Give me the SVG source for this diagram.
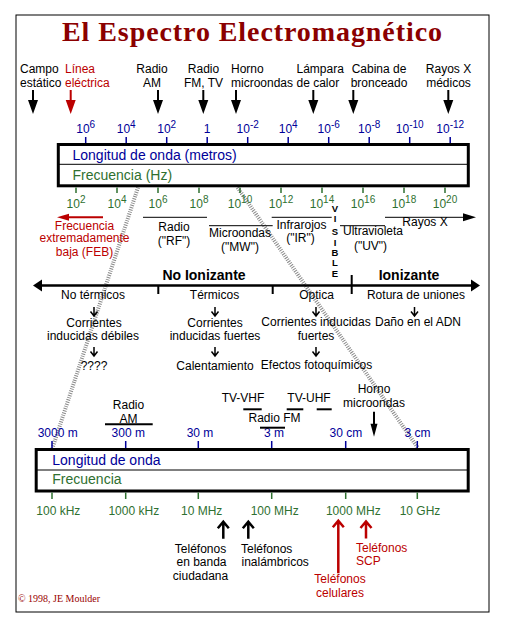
<svg xmlns="http://www.w3.org/2000/svg" width="507" height="630" viewBox="0 0 507 630">
<style>
text{font-family:"Liberation Sans",Arial,sans-serif;font-size:12px;fill:#000}
.m{text-anchor:middle}
.r{fill:#bb0000}
.b{fill:#000099}
.g{fill:#2f7030}
.bx{font-size:14px}
.sup{font-size:10px}
.hd{font-weight:bold;font-size:14px;text-anchor:middle}
.vis{font-weight:bold;font-size:9.5px;text-anchor:middle}
.title{font-family:"Liberation Serif","Times New Roman",serif;font-weight:bold;font-size:28px;fill:#8b0000;text-anchor:middle}
.copy{font-family:"Liberation Serif","Times New Roman",serif;font-size:10px;fill:#990000}
.ln{stroke:#000;stroke-width:1;fill:none}
.ul{stroke:#000;stroke-width:2;fill:none}
.tkb{stroke:#000099;stroke-width:1.5}
.tkg{stroke:#2f7030;stroke-width:1.5}
.box{fill:#fff;stroke:#000;stroke-width:3}
.mid{stroke:#000;stroke-width:1}
.band{stroke:#8a8a8a;stroke-width:4;stroke-dasharray:1 1.3;fill:none}
.sa{stroke:#000;stroke-width:1.5;fill:none}
.ua{stroke-width:2.5;fill:none}
</style>
<defs>
<path id="da" d="M-1,0 H1 V10 H5 L0,24 L-5,10 H-1 Z"/>
<path id="sa" d="M0,0 V9 M-3.5,4.5 L0,9 L3.5,4.5"/>
<path id="ua" d="M0,0 V17 M-5.5,6.5 L0,0 L5.5,6.5"/>
</defs>
<rect x="16" y="15" width="473" height="597" fill="#fff" stroke="#000" stroke-width="1"/>
<g id="title"><text class="title" x="252" y="40.5" textLength="380" lengthAdjust="spacing">El Espectro Electromagnético</text></g>

<g id="bands">
<line class="band" x1="138" y1="187.5" x2="52.5" y2="448"/>
<line class="band" x1="237.5" y1="187.5" x2="418" y2="448"/>
</g>

<g id="top-labels">
<g id="campo"><text x="20" y="73">Campo</text><text x="20" y="87">estático</text></g>
<g id="linea"><text class="r" x="65" y="73">Línea</text><text class="r" x="65" y="87">eléctrica</text></g>
<g id="radioam"><text class="m" x="152" y="73">Radio</text><text class="m" x="152" y="87">AM</text></g>
<g id="radiofm"><text class="m" x="203.5" y="73">Radio</text><text class="m" x="203.5" y="87">FM, TV</text></g>
<g id="horno"><text x="231" y="73">Horno</text><text x="231" y="87">microondas</text></g>
<g id="lampara"><text x="296.5" y="73">Lámpara</text><text x="296.5" y="87">de calor</text></g>
<g id="cabina"><text class="m" x="379" y="73">Cabina de</text><text class="m" x="379" y="87">bronceado</text></g>
<g id="rayosxmed"><text class="m" x="448.5" y="73">Rayos X</text><text class="m" x="448.5" y="87">médicos</text></g>
</g>

<g id="top-scale">
<text class="m b" x="85.7" y="133.3">10<tspan class="sup" dy="-5">6</tspan></text>
<text class="m b" x="126.2" y="133.3">10<tspan class="sup" dy="-5">4</tspan></text>
<text class="m b" x="166.7" y="133.3">10<tspan class="sup" dy="-5">2</tspan></text>
<text class="m b" x="207.2" y="133.3">1</text>
<text class="m b" x="247.7" y="133.3">10<tspan class="sup" dy="-5">-2</tspan></text>
<text class="m b" x="288.2" y="133.3">10<tspan class="sup" dy="-5">4</tspan></text>
<text class="m b" x="328.7" y="133.3">10<tspan class="sup" dy="-5">-6</tspan></text>
<text class="m b" x="369.2" y="133.3">10<tspan class="sup" dy="-5">-8</tspan></text>
<text class="m b" x="409.7" y="133.3">10<tspan class="sup" dy="-5">-10</tspan></text>
<text class="m b" x="450.2" y="133.3">10<tspan class="sup" dy="-5">-12</tspan></text>
<path class="tkb" d="M85.7,137V143.5M126.2,137V143.5M166.7,137V143.5M207.2,137V143.5M247.7,137V143.5M288.2,137V143.5M328.7,137V143.5M369.2,137V143.5M409.7,137V143.5M450.2,137V143.5"/>
</g>

<g id="top-box">
<rect class="box" x="58.3" y="144.5" width="410" height="41.3"/>
<line class="mid" x1="58.3" y1="164.3" x2="468.3" y2="164.3"/>
<text class="b bx" x="72.5" y="160">Longitud de onda (metros)</text>
<text class="g bx" x="72.5" y="179.5">Frecuencia (Hz)</text>
</g>

<g id="freq-scale">
<path class="tkg" d="M76,187.5V193M117,187.5V193M158,187.5V193M199,187.5V193M240,187.5V193M281,187.5V193M322,187.5V193M363,187.5V193M404,187.5V193M445,187.5V193"/>
<text class="m g" x="76" y="207.7">10<tspan class="sup" dy="-4.5">2</tspan></text>
<text class="m g" x="117" y="207.7">10<tspan class="sup" dy="-4.5">4</tspan></text>
<text class="m g" x="158" y="207.7">10<tspan class="sup" dy="-4.5">6</tspan></text>
<text class="m g" x="199" y="207.7">10<tspan class="sup" dy="-4.5">8</tspan></text>
<text class="m g" x="240" y="207.7">10<tspan class="sup" dy="-4.5">10</tspan></text>
<text class="m g" x="281" y="207.7">10<tspan class="sup" dy="-4.5">12</tspan></text>
<text class="m g" x="322" y="207.7">10<tspan class="sup" dy="-4.5">14</tspan></text>
<text class="m g" x="363" y="207.7">10<tspan class="sup" dy="-4.5">16</tspan></text>
<text class="m g" x="404" y="207.7">10<tspan class="sup" dy="-4.5">18</tspan></text>
<text class="m g" x="445" y="207.7">10<tspan class="sup" dy="-4.5">20</tspan></text>
</g>

<g id="band-labels">
<g id="feb"><text class="m r" x="84.5" y="229.5">Frecuencia</text><text class="m r" x="84.5" y="242">extremadamente</text><text class="m r" x="84.5" y="256">baja (FEB)</text></g>
<g id="rf"><text class="m" x="174" y="231">Radio</text><text class="m" x="174" y="245">("RF")</text></g>
<g id="mw"><text class="m" x="240" y="237">Microondas</text><text class="m" x="240" y="250.5">("MW")</text></g>
<g id="ir"><text class="m" x="301.5" y="228.5">Infrarojos</text><text class="m" x="300.5" y="242">("IR")</text></g>
<g id="visible"><text class="vis"><tspan x="335" y="211.5">V</tspan><tspan x="335" y="222">I</tspan><tspan x="335" y="234.5">S</tspan><tspan x="335" y="246">I</tspan><tspan x="335" y="256">B</tspan><tspan x="335" y="266">L</tspan><tspan x="335" y="277">E</tspan></text></g>
<g id="uv"><text class="m" x="373" y="235">Ultravioleta</text><text class="m" x="370.5" y="250">("UV")</text></g>
<g id="rx"><text class="m" x="425" y="226">Rayos X</text></g>
</g>

<g id="ionizing">
<text class="hd" x="204" y="280">No Ionizante</text>
<text class="hd" x="409" y="280">Ionizante</text>
</g>

<g id="effects">
<g id="notermicos"><text class="m" x="93" y="298.5">No térmicos</text><text class="m" x="94" y="326.7">Corrientes</text><text class="m" x="93" y="340">inducidas débiles</text><text class="m" x="94" y="370">????</text></g>
<g id="termicos"><text class="m" x="214.5" y="298.5">Térmicos</text><text class="m" x="215" y="326.7">Corrientes</text><text class="m" x="215" y="340">inducidas fuertes</text><text class="m" x="215" y="370">Calentamiento</text></g>
<g id="optica"><text class="m" x="316.5" y="298.5">Optica</text><text class="m" x="316" y="326">Corrientes inducidas</text><text class="m" x="316" y="340">fuertes</text><text class="m" x="316.5" y="368.5">Efectos fotoquímicos</text></g>
<g id="rotura"><text class="m" x="416" y="298.5">Rotura de uniones</text><text class="m" x="418" y="326">Daño en el ADN</text></g>
</g>

<g id="lower-labels">
<g id="am"><text class="m" x="128.5" y="409">Radio</text><text class="m" x="128.5" y="422.5">AM</text></g>
<g id="tvvhf"><text class="m" x="243" y="402">TV-VHF</text></g>
<g id="radiofm2"><text class="m" x="274.5" y="421.7">Radio FM</text></g>
<g id="tvuhf"><text class="m" x="309" y="402">TV-UHF</text></g>
<g id="horno2"><text class="m" x="374" y="393.3">Horno</text><text class="m" x="374" y="406.7">microondas</text></g>
</g>

<g id="lower-scale">
<text class="m b" x="57.7" y="437.3">3000 m</text>
<text class="m b" x="128.3" y="437.3">300 m</text>
<text class="m b" x="200" y="437.3">30 m</text>
<text class="m b" x="274" y="437.3">3 m</text>
<text class="m b" x="345.8" y="437.3">30 cm</text>
<text class="m b" x="417.5" y="437.3">3 cm</text>
<path class="tkb" d="M52,441V448M125.7,441V448M198.3,441V448M271.7,441V448M345.7,441V448M417.3,441V448"/>
</g>

<g id="lower-box">
<rect class="box" x="36.2" y="449.5" width="432" height="41.5"/>
<line class="mid" x1="36.2" y1="470" x2="468.2" y2="470"/>
<text class="b bx" x="52.3" y="465">Longitud de onda</text>
<text class="g bx" x="52.3" y="484">Frecuencia</text>
</g>

<g id="lower-freq">
<path class="tkg" d="M52,492.5V499M125.7,492.5V499M198.3,492.5V499M271.7,492.5V499M345.7,492.5V499M417.3,492.5V499"/>
<text class="m g" x="58.3" y="515">100 kHz</text>
<text class="m g" x="133.8" y="515">1000 kHz</text>
<text class="m g" x="201.7" y="515">10 MHz</text>
<text class="m g" x="274.7" y="515">100 MHz</text>
<text class="m g" x="353.3" y="515">1000 MHz</text>
<text class="m g" x="420" y="515">10 GHz</text>
</g>

<g id="phones">
<g id="cb"><text class="m" x="200.5" y="552.7">Teléfonos</text><text class="m" x="201.5" y="566">en banda</text><text class="m" x="200.5" y="580">ciudadana</text></g>
<g id="inal"><text x="241" y="553.3">Teléfonos</text><text x="241.5" y="566">inalámbricos</text></g>
<g id="cel"><text class="m r" x="340" y="583.3">Teléfonos</text><text class="m r" x="340" y="597.3">celulares</text></g>
<g id="scp"><text class="r" x="356" y="551.7">Teléfonos</text><text class="r" x="356" y="565">SCP</text></g>
</g>

<g id="connectors">
<use href="#da" x="33" y="90"/>
<use href="#da" x="70.7" y="90" fill="#bb0000"/>
<use href="#da" x="158" y="90"/>
<use href="#da" x="203.3" y="90"/>
<use href="#da" x="236" y="90"/>
<use href="#da" x="313.3" y="90"/>
<use href="#da" x="353.3" y="90"/>
<use href="#da" x="448.3" y="90"/>
<line x1="68" y1="217.3" x2="103" y2="217.3" stroke="#bb0000" stroke-width="2"/>
<polygon points="57,217.3 69,213.8 69,220.8" fill="#bb0000"/>
<line class="ln" x1="143" y1="217.3" x2="207" y2="217.3"/>
<line class="ln" x1="209" y1="225.7" x2="272.7" y2="225.7"/>
<line class="ln" x1="271.7" y1="217.3" x2="331.7" y2="217.3"/>
<line class="ln" x1="340" y1="225.7" x2="385" y2="225.7"/>
<line class="ln" x1="385" y1="217.3" x2="464" y2="217.3"/>
<polygon points="476,217.3 463,213.3 463,221.3" fill="#000"/>
<line x1="41" y1="285.5" x2="472" y2="285.5" stroke="#000" stroke-width="2.5"/>
<polygon points="33,285.5 42,279.5 42,291.5" fill="#000"/>
<polygon points="480,285.5 471,279.5 471,291.5" fill="#000"/>
<path d="M158.3,285V294M272.7,285V294M351.7,275V294" stroke="#000" stroke-width="2"/>
<use href="#sa" class="sa" x="94" y="307"/>
<use href="#sa" class="sa" x="215" y="307"/>
<use href="#sa" class="sa" x="316" y="307"/>
<use href="#sa" class="sa" x="414.5" y="307"/>
<use href="#sa" class="sa" x="94" y="347"/>
<use href="#sa" class="sa" x="215" y="347"/>
<use href="#sa" class="sa" x="316" y="347"/>
<line class="ul" x1="105" y1="424.3" x2="152.7" y2="424.3"/>
<line class="ul" x1="243.3" y1="409.3" x2="261.7" y2="409.3"/>
<line class="ul" x1="286.7" y1="409.3" x2="303.3" y2="409.3"/>
<line class="ul" x1="316.7" y1="409.3" x2="331.7" y2="409.3"/>
<line class="ul" x1="260" y1="427.7" x2="285" y2="427.7"/>
<path d="M373,411.7 H375 V423.7 H377.5 L374,436.7 L370.5,423.7 H373 Z" fill="#000"/>
<use href="#ua" class="ua" x="223.3" y="521.7" stroke="#000"/>
<use href="#ua" class="ua" x="248.3" y="521.7" stroke="#000"/>
<use href="#ua" class="ua" x="366" y="521.5" stroke="#bb0000"/>
<path class="ua" d="M338.3,520.7 V573.3 M332.8,527.2 L338.3,520.7 L343.8,527.2" stroke="#bb0000"/>
</g>

<g id="copyright"><text class="copy" x="18" y="601.7">© 1998, JE Moulder</text></g>
</svg>
